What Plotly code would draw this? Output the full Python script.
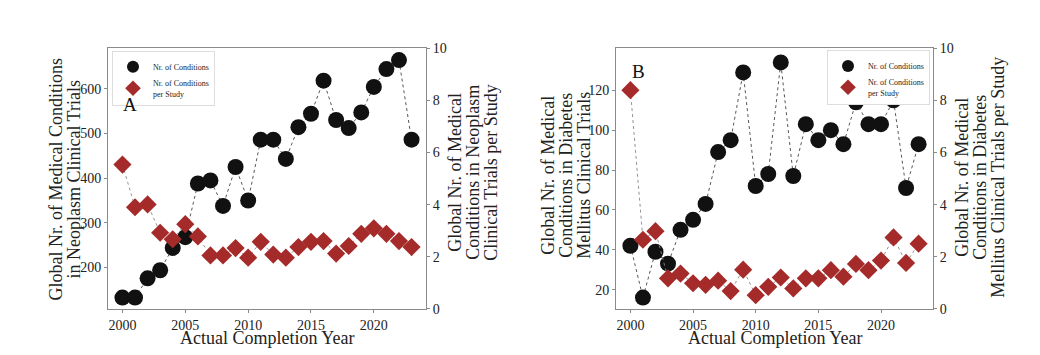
import plotly.graph_objects as go

years = list(range(2000, 2024))
neoplasm_conditions = [133, 133, 176, 194, 244, 268, 388, 395, 338, 425, 350, 486,
                       486, 443, 514, 544, 618, 530, 512, 547, 604, 644, 664, 486]
neoplasm_per_study = [5.54, 3.90, 4.01, 2.92, 2.67, 3.25, 2.78, 2.05, 2.05, 2.33, 1.96, 2.57,
                      2.08, 1.96, 2.37, 2.57, 2.60, 2.12, 2.41, 2.88, 3.09, 2.88, 2.60, 2.37]
diabetes_conditions = [42, 16, 39, 33, 50, 55, 63, 89, 95, 129, 72, 78,
                       134, 77, 103, 95, 100, 93, 114, 103, 103, 115, 71, 93]
diabetes_per_study = [8.40, 2.65, 2.98, 1.17, 1.35, 0.98, 0.92, 1.08, 0.68, 1.50, 0.52, 0.84,
                      1.20, 0.78, 1.17, 1.17, 1.48, 1.23, 1.72, 1.48, 1.85, 2.74, 1.76, 2.50]

x_ticks = [2000, 2005, 2010, 2015, 2020]
right_ticks = [0, 2, 4, 6, 8, 10]
left_ticks_a = [200, 300, 400, 500, 600]
left_ticks_b = [20, 40, 60, 80, 100, 120]

name_count = "Nr. of Conditions"
name_per = "Nr. of Conditions<br>per Study"

FONT = "Liberation Serif"
BLACK = "#111111"
RED = "#a52a2a"
AXC = "#8a8a8a"
OFF = 8  # default page body margin
W, H = 1040 - OFF, 355 - OFF


def px_x(p):
    return (p - OFF) / W


def px_y(p):
    return 1 - (p - OFF) / H


fig = go.Figure()


def add_series(xs, ys, xa, ya, name, symbol, size, color, lcolor, leg):
    fig.add_trace(go.Scatter(x=xs, y=ys, mode="lines", showlegend=False, hoverinfo="skip",
                             line=dict(color=lcolor, width=0.9, dash="dot"),
                             xaxis=xa, yaxis=ya))
    fig.add_trace(go.Scatter(x=xs, y=ys, mode="markers", name=name,
                             marker=dict(symbol=symbol, size=size, color=color),
                             xaxis=xa, yaxis=ya, legend=leg))


add_series(years, neoplasm_conditions, "x", "y", name_count, "circle", 16, BLACK, "#444", "legend")
add_series(years, neoplasm_per_study, "x", "y2", name_per, "diamond", 14, RED, "#888", "legend")
add_series(years, diabetes_conditions, "x2", "y3", name_count, "circle", 16, BLACK, "#444", "legend2")
add_series(years, diabetes_per_study, "x2", "y4", name_per, "diamond", 14, RED, "#888", "legend2")

tickfont = dict(family=FONT, size=14, color="#222")
common_x = dict(range=[1998.85, 2024.15], tickvals=x_ticks, ticks="outside", ticklen=3,
                tickcolor=AXC, showline=True, linecolor=AXC, linewidth=1, mirror=True,
                showgrid=False, zeroline=False, tickfont=tickfont)
common_y = dict(ticks="outside", ticklen=3, tickcolor=AXC, showline=True, linecolor=AXC,
                linewidth=1, showgrid=False, zeroline=False, tickfont=tickfont)

ydom = [px_y(315), px_y(43)]

legend_common = dict(bgcolor="white", bordercolor="#dddddd", borderwidth=1,
                     font=dict(family=FONT, size=8, color="#222"), tracegroupgap=0,
                     itemsizing="constant", itemwidth=30)

fig.update_layout(
    width=W, height=H,
    margin=dict(l=0, r=0, t=0, b=0),
    paper_bgcolor="white", plot_bgcolor="white",
    font=dict(family=FONT, color="#222"),
    xaxis=dict(domain=[px_x(108), px_x(426)], anchor="y", **common_x),
    yaxis=dict(domain=ydom, anchor="x", range=[108, 690], tickvals=left_ticks_a, **common_y),
    yaxis2=dict(overlaying="y", side="right", anchor="x", range=[0, 10], tickvals=right_ticks, **common_y),
    xaxis2=dict(domain=[px_x(616), px_x(933)], anchor="y3", **common_x),
    yaxis3=dict(domain=ydom, anchor="x2", range=[10.4, 141], tickvals=left_ticks_b, **common_y),
    yaxis4=dict(overlaying="y3", side="right", anchor="x2", range=[0, 10], tickvals=right_ticks, **common_y),
    legend=dict(x=px_x(112), y=px_y(46), xanchor="left", yanchor="top", **legend_common),
    legend2=dict(x=px_x(930), y=px_y(45), xanchor="right", yanchor="top", **legend_common),
    showlegend=True,
)

title_font = dict(family=FONT, size=18, color="#222")

rot_titles = [
    (["Global Nr. of Medical Conditions", "in Neoplasm Clinical Trials"], [56, 74], 180),
    (["Global Nr. of Medical", "Conditions in Neoplasm", "Clinical Trials per Study"], [455, 473, 491], 173),
    (["Global Nr. of Medical", "Conditions in Diabetes", "Mellitus Clinical Trials"], [548, 566, 584], 176),
    (["Global Nr. of Medical", "Conditions in Diabetes", "Mellitus Clinical Trials per Study"], [962, 980, 998], 178),
]
for lines, xs, yc in rot_titles:
    for line, xc in zip(lines, xs):
        fig.add_annotation(xref="paper", yref="paper", x=px_x(xc), y=px_y(yc), text=line,
                           textangle=-90, showarrow=False, xanchor="center", yanchor="middle",
                           font=title_font)

for xc in (267, 775):
    fig.add_annotation(xref="paper", yref="paper", x=px_x(xc), y=px_y(346), text="Actual Completion Year",
                       showarrow=False, xanchor="center", yanchor="middle",
                       font=dict(family=FONT, size=18, color="#222"))

fig.add_annotation(xref="paper", yref="paper", x=px_x(130), y=px_y(102), text="A", showarrow=False,
                   font=dict(family=FONT, size=19, color="#111"), xanchor="center", yanchor="middle")
fig.add_annotation(xref="paper", yref="paper", x=px_x(638), y=px_y(67), text="B", showarrow=False,
                   font=dict(family=FONT, size=19, color="#111"), xanchor="center", yanchor="middle")

fig.write_html("out.html", config={"displayModeBar": False})
